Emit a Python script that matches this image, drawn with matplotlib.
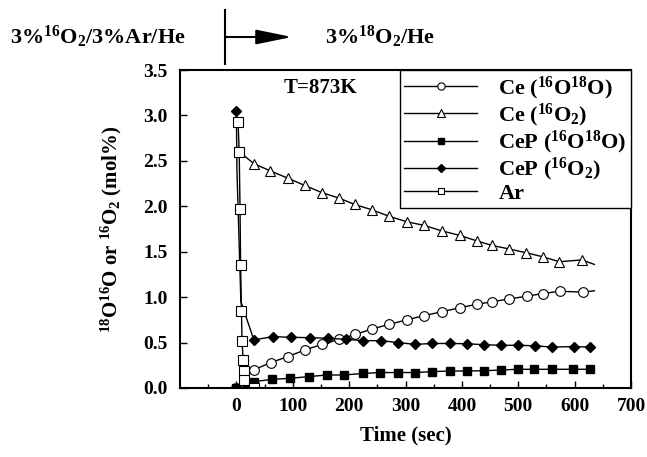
import matplotlib
matplotlib.use('Agg')
import matplotlib.pyplot as plt
from matplotlib.lines import Line2D

plt.rcParams['font.family'] = 'Liberation Serif'
plt.rcParams['font.weight'] = 'bold'
plt.rcParams['axes.labelweight'] = 'bold'
plt.rcParams['mathtext.fontset'] = 'custom'
plt.rcParams['mathtext.rm'] = 'Liberation Serif:bold'
plt.rcParams['mathtext.bf'] = 'Liberation Serif:bold'
plt.rcParams['mathtext.it'] = 'Liberation Serif:bold'
plt.rcParams['mathtext.default'] = 'regular'

# Ce (16O18O)
ce_mix_t = [0, 14, 31, 61, 91, 122, 152, 182, 211, 241, 271, 302, 332, 365, 397, 426, 454, 484, 515, 544, 574, 614, 635]
ce_mix = [0.0, 0.1, 0.2, 0.28, 0.345, 0.42, 0.48, 0.535, 0.59, 0.65, 0.70, 0.75, 0.795, 0.84, 0.885, 0.92, 0.95, 0.98, 1.01, 1.04, 1.065, 1.055, 1.07]

# Ce (16O2)
ce_o2_t = [5, 31, 60, 91, 121, 152, 182, 210, 241, 271, 302, 333, 364, 396, 426, 453, 484, 513, 543, 573, 613, 635]
ce_o2 = [2.60, 2.47, 2.39, 2.31, 2.23, 2.15, 2.09, 2.02, 1.96, 1.89, 1.83, 1.79, 1.73, 1.68, 1.62, 1.57, 1.53, 1.49, 1.445, 1.39, 1.41, 1.36]

# CeP (16O18O)
cep_mix_t = [0, 19, 31, 63, 96, 128, 160, 191, 224, 255, 286, 317, 347, 379, 409, 440, 470, 499, 528, 560, 597, 628]
cep_mix = [0.0, 0.015, 0.07, 0.095, 0.107, 0.125, 0.143, 0.143, 0.16, 0.17, 0.17, 0.17, 0.18, 0.187, 0.187, 0.19, 0.198, 0.206, 0.206, 0.206, 0.206, 0.206]

# CeP (16O2)
cep_o2_t = [0, 1, 8, 31, 65, 97, 130, 162, 194, 225, 256, 287, 317, 347, 379, 409, 440, 470, 499, 529, 560, 598, 628]
cep_o2 = [3.05, 2.4, 0.95, 0.53, 0.565, 0.558, 0.554, 0.547, 0.536, 0.521, 0.521, 0.50, 0.48, 0.49, 0.49, 0.487, 0.476, 0.47, 0.47, 0.465, 0.45, 0.456, 0.45]

# Ar
ar_t = [3, 5, 6.5, 7.5, 9, 10, 12, 13, 14, 31]
ar = [2.93, 2.60, 1.97, 1.35, 0.85, 0.52, 0.31, 0.19, 0.09, 0.0]

fig = plt.figure(figsize=(6.47, 4.57), dpi=100)
ax = fig.add_axes([0.2782, 0.151, 0.6971, 0.6958])

lw = 1.0
ax.plot(ce_mix_t, ce_mix, color='black', lw=lw, marker='o', ms=7, mfc='white', mec='black', mew=0.8,
        markevery=list(range(len(ce_mix_t) - 1)), label='Ce ($^{16}$O$^{18}$O)')
ax.plot(ce_o2_t, ce_o2, color='black', lw=lw, marker='^', ms=7.5, mfc='white', mec='black', mew=0.8,
        markevery=list(range(1, len(ce_o2_t) - 1)), label='Ce ($^{16}$O$_2$)')
ax.plot(cep_mix_t, cep_mix, color='black', lw=lw, marker='s', ms=6, mfc='black', mec='black',
        label='CeP ($^{16}$O$^{18}$O)')
ax.plot(cep_o2_t, cep_o2, color='black', lw=lw, marker='D', ms=5.5, mfc='black', mec='black',
        markevery=[0] + list(range(3, len(cep_o2_t))), label='CeP ($^{16}$O$_2$)')
ax.plot(ar_t, ar, color='black', lw=lw, marker='s', ms=6.5, mfc='white', mec='black', mew=0.8, label='Ar')

ax.set_xlim(-100, 700)
ax.set_ylim(0, 3.5)
ax.set_xticks([0, 100, 200, 300, 400, 500, 600, 700])
ax.set_xticks(range(-50, 700, 100), minor=True)
ax.set_yticks([0, 0.5, 1.0, 1.5, 2.0, 2.5, 3.0, 3.5])
ax.set_yticklabels(['0.0', '0.5', '1.0', '1.5', '2.0', '2.5', '3.0', '3.5'])
ax.tick_params(direction='in', which='major', length=5, width=1, labelsize=14, pad=7)
ax.tick_params(direction='in', which='minor', length=3, width=1)
ax.tick_params(axis='y', which='major', pad=9)
for s in ax.spines.values():
    s.set_linewidth(1.5)

ax.set_xlabel('Time (sec)', fontsize=15, labelpad=8)
ax.set_ylabel('$^{18}$O$^{16}$O or $^{16}$O$_2$ (mol%)', fontsize=15, labelpad=14)

ax.text(83, 3.3, 'T=873K', fontsize=15, va='center', ha='left')

leg = ax.legend(loc='upper right', borderaxespad=0, fontsize=16, handlelength=3.3, handletextpad=0.95,
                labelspacing=0.0, borderpad=0.2, markerscale=0.75, fancybox=False, framealpha=1,
                edgecolor='black')
leg.get_frame().set_linewidth(1.0)

# gas switch annotation above the plot
fig.text(10 / 647, 1 - 37 / 457, '3%$^{16}$O$_2$/3%Ar/He', fontsize=16, va='center', ha='left')
fig.text(325 / 647, 1 - 37 / 457, '3%$^{18}$O$_2$/He', fontsize=16, va='center', ha='left')
fig.add_artist(Line2D([225 / 647, 225 / 647], [1 - 10 / 457, 1 - 64 / 457], color='black', lw=1.5))
ax.annotate('', xy=(292, 457 - 37), xytext=(225, 457 - 37), xycoords='figure pixels',
            textcoords='figure pixels',
            arrowprops=dict(arrowstyle='-|>,head_length=2.2,head_width=0.45', color='black', lw=1.5,
                            shrinkA=0, shrinkB=0))

fig.savefig('out.png', dpi=100)
